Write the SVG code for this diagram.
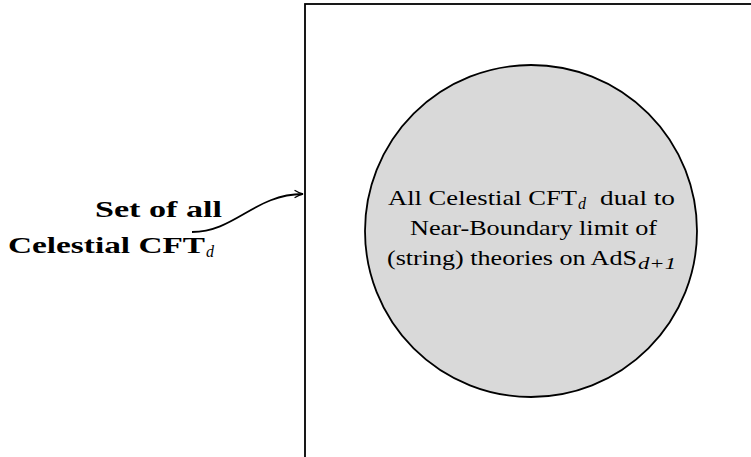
<svg xmlns="http://www.w3.org/2000/svg" width="751" height="457" viewBox="0 0 751 457">
<style>
.t{font-family:"Liberation Serif","DejaVu Serif",serif;font-size:22px;fill:#000}
.b{font-weight:bold;font-size:24px}
.s{font-family:"Liberation Serif","DejaVu Serif",serif;font-size:16px;font-style:italic;fill:#000}
</style>
<defs>
<marker id="ah" viewBox="0 0 10 10" refX="9" refY="5" markerWidth="10" markerHeight="10" markerUnits="userSpaceOnUse" orient="auto">
<path d="M1,1.5 Q5,4 9,5 Q5,6 1,8.5" fill="none" stroke="#000" stroke-width="1.3" stroke-linecap="round"/>
</marker>
</defs>
<rect x="0" y="0" width="751" height="457" fill="#fff"/>
<g id="set">
<rect x="305" y="4" width="460" height="470" fill="none" stroke="#000" stroke-width="1.8"/>
</g>
<g id="subset">
<circle cx="531" cy="231" r="166" fill="#d9d9d9" stroke="#000" stroke-width="1.8"/>
<text class="t" x="388" y="205" textLength="189" lengthAdjust="spacingAndGlyphs">All Celestial CFT</text>
<text class="s" x="578" y="209">d</text>
<text class="t" x="600" y="205" textLength="75" lengthAdjust="spacingAndGlyphs">dual to</text>
<text class="t" x="410" y="235" textLength="247" lengthAdjust="spacingAndGlyphs">Near-Boundary limit of</text>
<text class="t" x="387" y="265" textLength="250" lengthAdjust="spacingAndGlyphs">(string) theories on AdS</text>
<text class="s" x="638" y="269" textLength="38" lengthAdjust="spacingAndGlyphs">d+1</text>
</g>
<g id="label">
<text class="t b" x="95" y="217" textLength="127" lengthAdjust="spacingAndGlyphs">Set of all</text>
<text class="t b" x="8" y="253" textLength="197" lengthAdjust="spacingAndGlyphs">Celestial CFT</text>
<text class="s" x="206" y="257">d</text>
</g>
<g id="connectors">
<path d="M192,232 C235,232 255,194 303,194" fill="none" stroke="#000" stroke-width="1.8" marker-end="url(#ah)"/>
</g>
</svg>
